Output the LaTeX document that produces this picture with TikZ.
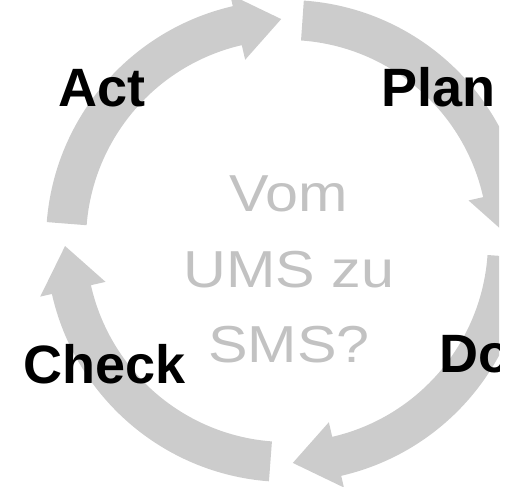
\documentclass[tikz,border=0pt]{standalone}
\usepackage{fontspec}
\setmainfont{Liberation Sans}
\newfontfamily\widefont[FakeStretch=1.14]{Liberation Sans}
\definecolor{arrowgray}{HTML}{CCCCCC}
\definecolor{textgray}{HTML}{C2C2C2}
\tikzset{
  cyclearrow/.style={fill=arrowgray,draw=none},
  phaselabel/.style={font=\fontsize{54}{60}\selectfont\bfseries,text=black,anchor=base west,inner sep=0pt},
  centerlabel/.style={font=\widefont\fontsize{52}{75.5}\selectfont,text=textgray,align=center,inner sep=0pt,anchor=base}
}
\newcommand{\cyclepath}[3]{% start, notch, tip angles (clockwise)
  (#1:241pt) arc[start angle=#1,end angle=#2,radius=241pt] -- (#2:253pt) -- (#3:222pt) -- (#2:186pt) -- (#2:201pt)
  arc[start angle=#2,end angle=#1,radius=201pt] -- cycle}
\begin{document}
\begin{tikzpicture}
\useasboundingbox (0pt,0pt) rectangle (510pt,486pt);
\begin{scope}
\clip (0pt,0pt) rectangle (499pt,486pt);
\begin{scope}[shift={(287pt,245pt)}]
\fill[cyclearrow] \cyclepath{86}{12.6}{1.2};
\fill[cyclearrow] \cyclepath{-4}{-77}{-88.5};
\fill[cyclearrow] \cyclepath{-94.3}{-167.3}{-178.7};
\fill[cyclearrow] \cyclepath{175.5}{103}{91.5};
\end{scope}
\node[phaselabel] (plan) at (381pt,379pt) {Plan};
\node[phaselabel] (do) at (439pt,113pt) {Do};
\node[phaselabel] (check) at (23pt,102pt) {Check};
\node[phaselabel] (act) at (58pt,379pt) {Act};
\end{scope}
\node[centerlabel] (center) at (289pt,123pt) {Vom\\UMS zu\\SMS?};
\end{tikzpicture}
\end{document}
